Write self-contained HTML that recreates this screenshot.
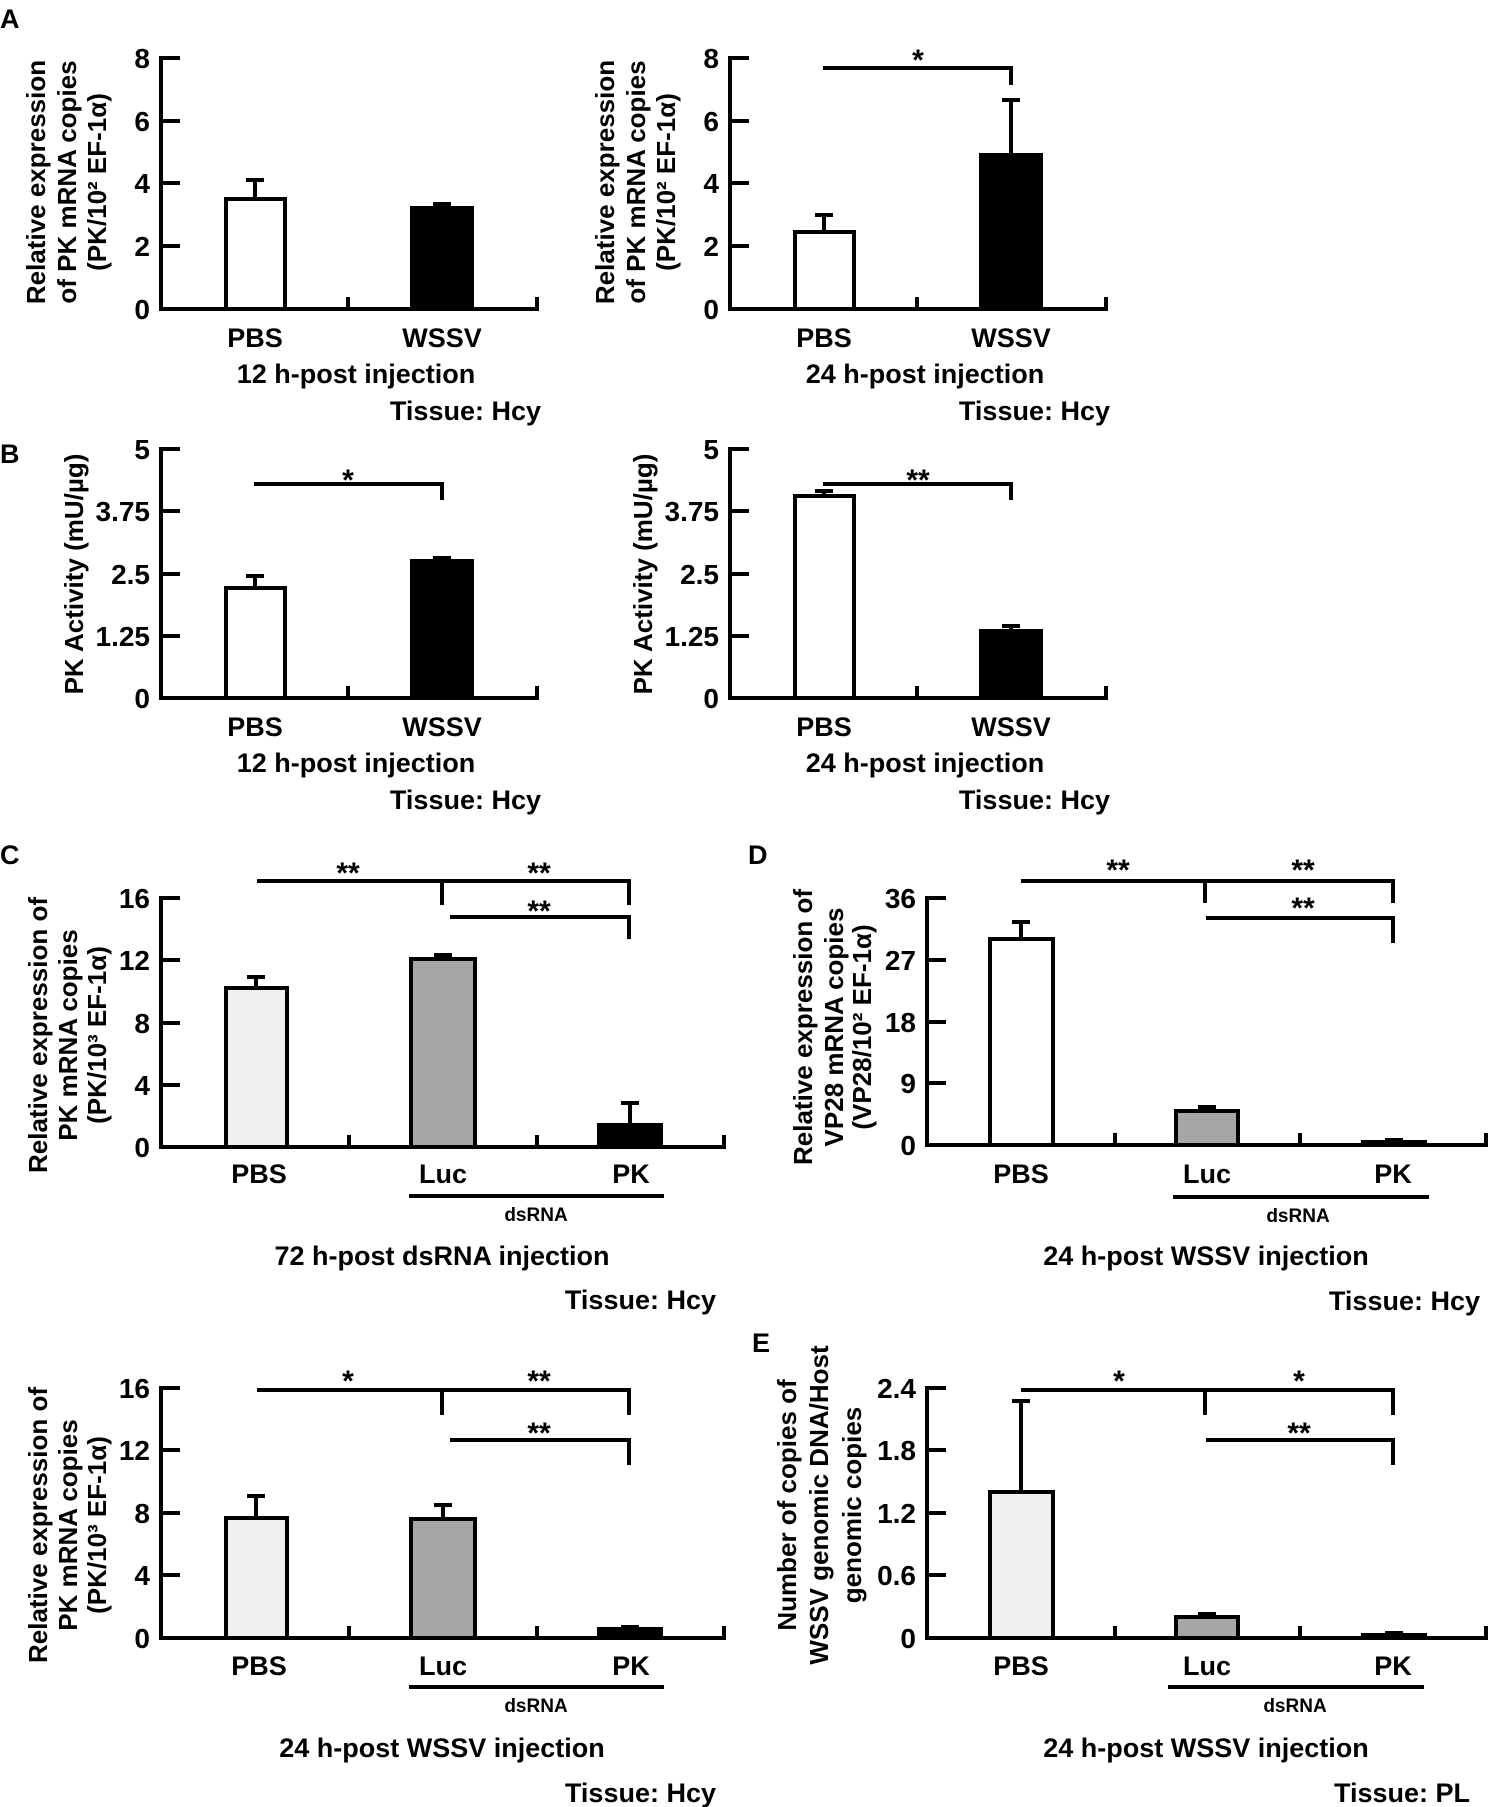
<!DOCTYPE html>
<html><head><meta charset="utf-8"><style>
html,body{margin:0;padding:0;background:#fff}
svg{display:block}
text{font-family:"Liberation Sans",Arial,sans-serif;font-weight:bold;fill:#000}
</style></head><body>
<svg width="1491" height="1807" viewBox="0 0 1491 1807" xmlns="http://www.w3.org/2000/svg">
<g stroke="#000" stroke-width="4" fill="none" stroke-linecap="butt">
<!-- A left -->
<path d="M161 56V311M159 309H539M161 58H180M161 121H180M161 183H180M161 246H180M348 297V309M537 297V309"/>
<rect x="226" y="199" width="59" height="110" fill="#fff"/>
<path d="M255 199V180M246 180H264"/>
<rect x="412" y="208" width="60" height="101" fill="#000"/>
<path d="M442 208V204M433 204H451"/>
<!-- A right -->
<path d="M730 56V311M728 309H1108M730 58H749M730 121H749M730 183H749M730 246H749M917 297V309M1106 297V309"/>
<rect x="795" y="232" width="59" height="77" fill="#fff"/>
<path d="M824 232V215M815 215H833"/>
<rect x="981" y="155" width="60" height="154" fill="#000"/>
<path d="M1011 155V100M1002 100H1020"/>
<path d="M823 68H1011V85"/>
<!-- B left -->
<path d="M161 447V700M159 698H539M161 449H180M161 511H180M161 574H180M161 636H180M348 686V698M537 686V698"/>
<rect x="226" y="588" width="59" height="110" fill="#fff"/>
<path d="M255 588V576M246 576H264"/>
<rect x="412" y="561" width="60" height="137" fill="#000"/>
<path d="M442 561V558M433 558H451"/>
<path d="M254 484H442V500"/>
<!-- B right -->
<path d="M730 447V700M728 698H1108M730 449H749M730 511H749M730 574H749M730 636H749M917 686V698M1106 686V698"/>
<rect x="795" y="496" width="59" height="202" fill="#fff"/>
<path d="M824 496V491M815 491H833"/>
<rect x="981" y="631" width="60" height="67" fill="#000"/>
<path d="M1011 631V626M1002 626H1020"/>
<path d="M823 484H1011V500"/>
<!-- C top -->
<path d="M161 896V1149M159 1147H726M161 898H180M161 960H180M161 1023H180M161 1085H180M349 1135V1147M537 1135V1147M724 1135V1147"/>
<rect x="226" y="988" width="61" height="159" fill="#f0f0f0"/>
<path d="M256 988V977M247 977H265"/>
<rect x="411" y="959" width="64" height="188" fill="#a6a6a6"/>
<path d="M443 959V955M434 955H452"/>
<rect x="599" y="1125" width="62" height="22" fill="#000"/>
<path d="M630 1125V1103M621 1103H639"/>
<path d="M257 881H629V905M442 881V905M450 917H629V939"/>
<path d="M409 1196H664"/>
<!-- D -->
<path d="M927 896V1147M925 1145H1488M927 898H946M927 960H946M927 1022H946M927 1083H946M1115 1133V1145M1300 1133V1145M1486 1133V1145"/>
<rect x="990" y="939" width="63" height="206" fill="#fff"/>
<path d="M1021 939V922M1012 922H1030"/>
<rect x="1176" y="1111" width="62" height="34" fill="#a6a6a6"/>
<path d="M1207 1111V1107M1198 1107H1216"/>
<rect x="1363" y="1142" width="62" height="3" fill="#000"/>
<path d="M1394 1142V1140M1385 1140H1403"/>
<path d="M1021 881H1393V903M1205 881V903M1206 918H1393V943"/>
<path d="M1173 1197H1429"/>
<!-- C bottom -->
<path d="M161 1386V1640M159 1638H726M161 1388H180M161 1450H180M161 1513H180M161 1575H180M349 1626V1638M537 1626V1638M724 1626V1638"/>
<rect x="226" y="1518" width="61" height="120" fill="#f0f0f0"/>
<path d="M256 1518V1496M247 1496H265"/>
<rect x="411" y="1519" width="64" height="119" fill="#a6a6a6"/>
<path d="M443 1519V1505M434 1505H452"/>
<rect x="599" y="1629" width="62" height="9" fill="#000"/>
<path d="M630 1629V1627M621 1627H639"/>
<path d="M257 1390H629V1415M442 1390V1415M450 1440H629V1465"/>
<path d="M409 1687H664"/>
<!-- E -->
<path d="M927 1386V1640M925 1638H1488M927 1388H946M927 1450H946M927 1513H946M927 1575H946M1115 1626V1638M1300 1626V1638M1486 1626V1638"/>
<rect x="990" y="1492" width="63" height="146" fill="#f0f0f0"/>
<path d="M1021 1492V1401M1012 1401H1030"/>
<rect x="1176" y="1617" width="62" height="21" fill="#a6a6a6"/>
<path d="M1207 1617V1614M1198 1614H1216"/>
<rect x="1363" y="1635" width="62" height="3" fill="#000"/>
<path d="M1394 1635V1633M1385 1633H1403"/>
<path d="M1021 1390H1393V1415M1205 1390V1415M1206 1440H1393V1465"/>
<path d="M1168 1687H1424"/>
</g>

<!-- panel letters -->
<text x="0" y="28" font-size="27">A</text>
<text x="0" y="463" font-size="27">B</text>
<text x="0" y="864" font-size="27">C</text>
<text x="748" y="864" font-size="27">D</text>
<text x="752" y="1352" font-size="27">E</text>

<!-- tick labels -->
<g font-size="28" text-anchor="end">
<text x="150" y="68">8</text><text x="150" y="131">6</text><text x="150" y="193">4</text><text x="150" y="256">2</text><text x="150" y="319">0</text>
<text x="719" y="68">8</text><text x="719" y="131">6</text><text x="719" y="193">4</text><text x="719" y="256">2</text><text x="719" y="319">0</text>
<text x="150" y="459">5</text><text x="150" y="521">3.75</text><text x="150" y="584">2.5</text><text x="150" y="646">1.25</text><text x="150" y="708">0</text>
<text x="719" y="459">5</text><text x="719" y="521">3.75</text><text x="719" y="584">2.5</text><text x="719" y="646">1.25</text><text x="719" y="708">0</text>
<text x="150" y="908">16</text><text x="150" y="970">12</text><text x="150" y="1033">8</text><text x="150" y="1095">4</text><text x="150" y="1157">0</text>
<text x="916" y="908">36</text><text x="916" y="970">27</text><text x="916" y="1032">18</text><text x="916" y="1093">9</text><text x="916" y="1155">0</text>
<text x="150" y="1398">16</text><text x="150" y="1460">12</text><text x="150" y="1523">8</text><text x="150" y="1585">4</text><text x="150" y="1648">0</text>
<text x="916" y="1398">2.4</text><text x="916" y="1460">1.8</text><text x="916" y="1523">1.2</text><text x="916" y="1585">0.6</text><text x="916" y="1648">0</text>
</g>

<!-- category labels -->
<g font-size="27" text-anchor="middle">
<text x="255" y="347">PBS</text><text x="442" y="347">WSSV</text>
<text x="824" y="347">PBS</text><text x="1011" y="347">WSSV</text>
<text x="356" y="383">12 h-post injection</text>
<text x="925" y="383">24 h-post injection</text>
<text x="255" y="736">PBS</text><text x="442" y="736">WSSV</text>
<text x="824" y="736">PBS</text><text x="1011" y="736">WSSV</text>
<text x="356" y="772">12 h-post injection</text>
<text x="925" y="772">24 h-post injection</text>
<text x="259" y="1183">PBS</text><text x="443" y="1183">Luc</text><text x="631" y="1183">PK</text>
<text x="442" y="1265">72 h-post dsRNA injection</text>
<text x="1021" y="1183">PBS</text><text x="1207" y="1183">Luc</text><text x="1393" y="1183">PK</text>
<text x="1206" y="1265">24 h-post WSSV injection</text>
<text x="259" y="1675">PBS</text><text x="443" y="1675">Luc</text><text x="631" y="1675">PK</text>
<text x="442" y="1757">24 h-post WSSV injection</text>
<text x="1021" y="1675">PBS</text><text x="1207" y="1675">Luc</text><text x="1393" y="1675">PK</text>
<text x="1206" y="1757">24 h-post WSSV injection</text>
</g>
<g font-size="27" text-anchor="end">
<text x="541" y="420">Tissue: Hcy</text>
<text x="1110" y="420">Tissue: Hcy</text>
<text x="541" y="809">Tissue: Hcy</text>
<text x="1110" y="809">Tissue: Hcy</text>
<text x="716" y="1309">Tissue: Hcy</text>
<text x="1480" y="1310">Tissue: Hcy</text>
<text x="716" y="1802">Tissue: Hcy</text>
<text x="1470" y="1802">Tissue: PL</text>
</g>
<g font-size="19" text-anchor="middle">
<text x="536" y="1221">dsRNA</text>
<text x="1298" y="1222">dsRNA</text>
<text x="536" y="1712">dsRNA</text>
<text x="1295" y="1712">dsRNA</text>
</g>

<!-- significance stars -->
<g font-size="30" text-anchor="middle">
<text x="918" y="70">*</text>
<text x="348" y="490">*</text>
<text x="918" y="490">**</text>
<text x="348" y="883">**</text><text x="539" y="883">**</text><text x="539" y="921">**</text>
<text x="1118" y="880">**</text><text x="1303" y="880">**</text><text x="1303" y="918">**</text>
<text x="348" y="1391">*</text><text x="539" y="1391">**</text><text x="539" y="1443">**</text>
<text x="1119" y="1391">*</text><text x="1299" y="1391">*</text><text x="1299" y="1443">**</text>
</g>

<!-- y-axis labels -->
<g font-size="26" text-anchor="middle">
<g transform="translate(45,182) rotate(-90)"><text x="0" y="0">Relative expression</text><text x="0" y="31">of PK mRNA copies</text><text x="0" y="61">(PK/10² EF-1α)</text></g>
<g transform="translate(614,182) rotate(-90)"><text x="0" y="0">Relative expression</text><text x="0" y="31">of PK mRNA copies</text><text x="0" y="61">(PK/10² EF-1α)</text></g>
<g transform="translate(83,574) rotate(-90)"><text x="0" y="0">PK Activity (mU/µg)</text></g>
<g transform="translate(652,574) rotate(-90)"><text x="0" y="0">PK Activity (mU/µg)</text></g>
<g transform="translate(47,1035) rotate(-90)"><text x="0" y="0">Relative expression of</text><text x="0" y="30">PK mRNA copies</text><text x="0" y="59">(PK/10³ EF-1α)</text></g>
<g transform="translate(812,1027) rotate(-90)"><text x="0" y="0">Relative expression of</text><text x="0" y="31">VP28 mRNA copies</text><text x="0" y="59">(VP28/10² EF-1α)</text></g>
<g transform="translate(47,1525) rotate(-90)"><text x="0" y="0">Relative expression of</text><text x="0" y="30">PK mRNA copies</text><text x="0" y="59">(PK/10³ EF-1α)</text></g>
<g transform="translate(796,1505) rotate(-90)"><text x="0" y="0">Number of copies of</text><text x="0" y="32">WSSV genomic DNA/Host</text><text x="0" y="65">genomic copies</text></g>
</g>
</svg>
</body></html>
